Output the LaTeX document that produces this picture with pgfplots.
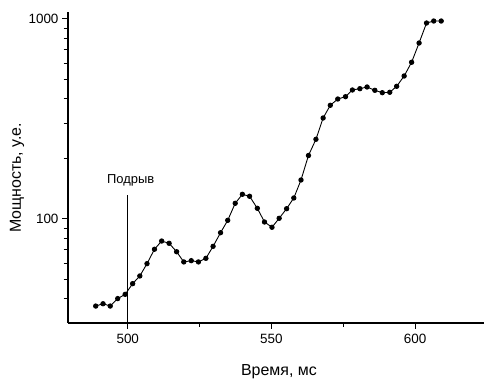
\documentclass[border=0pt]{standalone}
\usepackage{fontspec}
\setmainfont{Liberation Sans}
\usepackage{pgfplots}
\pgfplotsset{compat=1.18}
\begin{document}
\begin{tikzpicture}
\useasboundingbox (0,0) rectangle (484bp,379bp);
\begin{axis}[
  at={(68bp,56bp)}, anchor=south west,
  scale only axis, width=416bp, height=311bp,
  ymode=log, xmin=479.2, xmax=624, ymin=30.2, ymax=1084,
  axis x line*=bottom, axis y line*=left,
  axis line style={-, line width=1.3pt},
  tick align=outside,
  xtick={500,550,600}, xticklabels={500,550,600},
  minor xtick={525,575},
  ytick={100,1000}, yticklabels={100,1000},
  extra y ticks={40,50,60,70,80,90,200,300,400,500,600,700,800,900},
  extra y tick labels={},
  extra y tick style={major tick length=4.5bp},
  major tick length=6bp, minor tick length=4bp,
  tick style={line width=1pt, black},
  tick label style={font=\fontsize{13.5}{15}\selectfont},
  x tick label style={yshift=-2bp},
  every axis x label/.style={at={(axis description cs:0.507,-0.158)}, anchor=center, font=\fontsize{16}{18}\selectfont},
  every axis y label/.style={at={(axis description cs:-0.1226,0.466)}, rotate=90, anchor=center, font=\fontsize{16}{18}\selectfont},
  xlabel={Время, мс}, ylabel={Мощность, у.е.},
  clip=false,
]
\addplot[black, line width=0.9pt, mark=*, mark size=2.2pt] coordinates {
(488.85,36.7) (491.4,37.7) (493.9,36.7) (496.5,40.0) (499.1,42.0) (501.7,47.5)
(504.2,51.9) (506.7,59.8) (509.3,70.6) (511.8,77.6) (514.4,75.6) (517.0,68.6)
(519.5,61.0) (522.1,61.9) (524.6,61.0) (527.2,63.6) (529.7,73.0) (532.3,85.4)
(534.8,98.5) (537.4,119.8) (539.9,132.9) (542.4,129.9) (545.1,113.1) (547.6,96.6)
(550.2,90.9) (552.7,100.8) (555.3,112.6) (557.8,127.4) (560.3,156.7) (562.9,207.7)
(565.5,250.3) (568.0,319.9) (570.5,370.3) (573.1,398.1) (575.8,408.9) (578.2,441.6)
(580.8,448.3) (583.3,457.1) (586.0,440.0) (588.6,428.1) (591.2,430.1) (593.6,460.7)
(596.2,518.8) (598.8,607.7) (601.4,758.6) (604.0,955) (606.5,977) (609.1,977)
};
\addplot[black, line width=1pt] coordinates {(500,30.2) (500,131.8)};
\node[font=\fontsize{13}{15}\selectfont] at (axis cs:501,156.7) {Подрыв};
\end{axis}
\end{tikzpicture}
\end{document}
